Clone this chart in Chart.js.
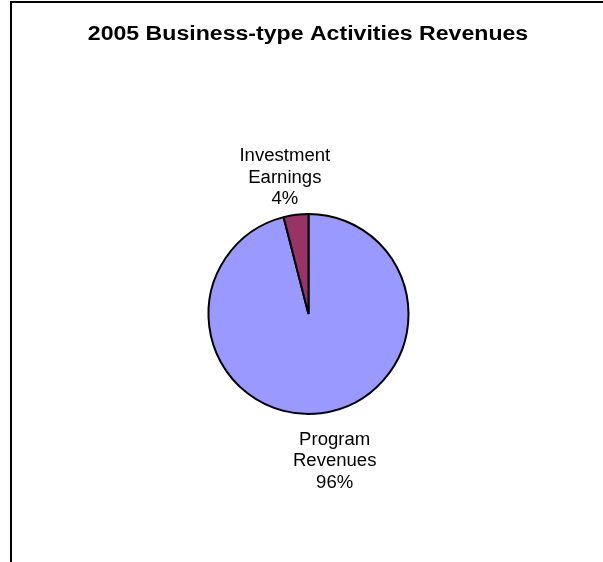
<!DOCTYPE html>
<html>
<head>
<meta charset="utf-8">
<script src="https://cdn.jsdelivr.net/npm/chart.js@4.4.0/dist/chart.umd.min.js"></script>
<style>
  html, body { margin: 0; padding: 0; background: #ffffff; }
  #chart-container { position: relative; width: 603px; height: 562px; }
</style>
</head>
<body>
<div id="chart-container"><canvas id="chart" width="603" height="562"></canvas></div>
<script>
// Dati del grafico
var chartTitle = '2005 Business-type Activities Revenues';
var categories = ['Program Revenues', 'Investment Earnings'];
var values = [96, 4];
var sliceColors = ['#9999FF', '#993366'];

var FONT = '"Liberation Sans", Arial, Helvetica, sans-serif';

// Testo centrato, con eventuale allargamento orizzontale
function wideText(ctx, text, x, y, sx) {
    ctx.save();
    ctx.translate(x, y);
    ctx.scale(sx, 1);
    ctx.fillText(text, 0, 0);
    ctx.restore();
}

// Cornice, titolo ed etichette delle fette
var decorPlugin = {
    id: 'decor',
    beforeDraw: function(chart) {
        var ctx = chart.ctx;
        ctx.save();
        ctx.fillStyle = '#ffffff';
        ctx.fillRect(0, 0, chart.width, chart.height);
        ctx.strokeStyle = '#000000';
        ctx.lineWidth = 2;
        ctx.beginPath();
        ctx.moveTo(11, chart.height);
        ctx.lineTo(11, 2);
        ctx.lineTo(chart.width, 2);
        ctx.stroke();
        ctx.restore();
    },
    afterDraw: function(chart) {
        var ctx = chart.ctx;
        ctx.save();
        ctx.fillStyle = '#000000';
        ctx.textAlign = 'center';
        ctx.textBaseline = 'middle';
        ctx.font = 'bold 20px ' + FONT;
        wideText(ctx, chartTitle, 308, 34, 1.155);

        // Etichette: nome spezzato su due righe + percentuale
        ctx.font = '18px ' + FONT;
        var meta = chart.getDatasetMeta(0);
        var total = values.reduce(function(a, b) { return a + b; }, 0);
        var lineH = 21.5;
        meta.data.forEach(function(arc, i) {
            var p = arc.getProps(['x', 'y', 'startAngle', 'endAngle', 'outerRadius'], true);
            var mid = (p.startAngle + p.endAngle) / 2;
            var dx = Math.cos(mid), dy = Math.sin(mid);
            var lines = categories[i].split(' ');
            lines.push(Math.round(values[i] / total * 100) + '%');
            var h = lines.length * lineH;
            var d = p.outerRadius + (dy < 0 ? 5 : 16);
            var ax = p.x + dx * d * 1.8;
            var ay = p.y + dy * d;
            var top = dy < 0 ? ay - h : ay;
            lines.forEach(function(t, k) {
                wideText(ctx, t, ax, top + lineH * (k + 0.5), 1.03);
            });
        });
        ctx.restore();
    }
};

var ctx = document.getElementById('chart').getContext('2d');
var chart = new Chart(ctx, {
    type: 'pie',
    data: {
        labels: categories,
        datasets: [{
            data: values,
            backgroundColor: sliceColors,
            borderColor: '#000000',
            borderWidth: 2
        }]
    },
    options: {
        responsive: false,
        animation: false,
        devicePixelRatio: 1,
        layout: {
            padding: { left: 207, right: 193, top: 213, bottom: 147 }
        },
        plugins: {
            legend: { display: false },
            title: { display: false },
            tooltip: { enabled: false }
        }
    },
    plugins: [decorPlugin]
});
</script>
</body>
</html>
